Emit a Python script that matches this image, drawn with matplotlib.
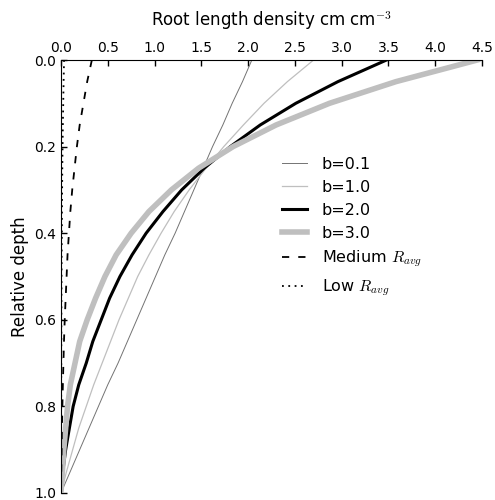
import numpy as np
import matplotlib
matplotlib.use("Agg")
import matplotlib.pyplot as plt

plt.rcParams['mathtext.fontset'] = 'cm'
plt.rcParams['font.family'] = ['DejaVu Sans']

# relative depth (0 = surface, 1 = bottom of root zone)
depth = [0.00, 0.05, 0.10, 0.15, 0.20, 0.25, 0.30, 0.35, 0.40, 0.45, 0.50,
         0.55, 0.60, 0.65, 0.70, 0.75, 0.80, 0.85, 0.90, 0.95, 1.00]

# root length density (cm cm^-3) per shape parameter b
rld_b01 = [2.04, 1.94, 1.83, 1.73, 1.62, 1.52, 1.42, 1.32, 1.22, 1.11, 1.01,
           0.91, 0.81, 0.71, 0.61, 0.50, 0.40, 0.30, 0.20, 0.10, 0.00]
rld_b10 = [2.70, 2.42, 2.17, 1.95, 1.74, 1.55, 1.37, 1.21, 1.07, 0.94, 0.82,
           0.72, 0.62, 0.53, 0.44, 0.35, 0.27, 0.19, 0.125, 0.06, 0.00]
rld_b20 = [3.48, 2.96, 2.51, 2.13, 1.81, 1.53, 1.29, 1.09, 0.91, 0.76, 0.63,
           0.52, 0.43, 0.34, 0.27, 0.19, 0.13, 0.09, 0.05, 0.02, 0.00]
rld_b30 = [4.45, 3.58, 2.87, 2.30, 1.84, 1.47, 1.18, 0.94, 0.75, 0.59, 0.47,
           0.37, 0.28, 0.20, 0.15, 0.10, 0.07, 0.05, 0.03, 0.015, 0.00]
rld_medium = [0.33, 0.28, 0.24, 0.20, 0.17, 0.145, 0.12, 0.10, 0.085, 0.07, 0.06,
              0.05, 0.04, 0.032, 0.026, 0.02, 0.015, 0.01, 0.007, 0.003, 0.00]
rld_low = [0.033, 0.028, 0.024, 0.020, 0.017, 0.014, 0.012, 0.010, 0.009, 0.007, 0.006,
           0.005, 0.004, 0.0035, 0.003, 0.0025, 0.002, 0.0015, 0.001, 0.0005, 0.0]

fig = plt.figure(figsize=(4.95, 5.0), dpi=100)
ax = fig.add_axes([0.1232, 0.014, 0.8505, 0.866])

ax.plot(rld_b01, depth, color='0.45', lw=0.7, label='b=0.1')
ax.plot(rld_b10, depth, color='0.75', lw=0.9, label='b=1.0')
ax.plot(rld_b20, depth, color='black', lw=2.2, label='b=2.0')
ax.plot(rld_b30, depth, color='0.75', lw=4.0, label='b=3.0')
ax.plot(rld_medium, depth, color='black', lw=1.3, dashes=[4, 5],
        label=r'Medium $R_{avg}$')
ax.plot(rld_low, depth, color='black', lw=1.3, dashes=[1, 2.5],
        label=r'Low $R_{avg}$')

ax.set_xlim(0, 4.5)
ax.set_ylim(1.0, 0.0)
ax.set_xticks(np.arange(0, 4.51, 0.5))
ax.set_yticks(np.arange(0, 1.01, 0.2))
ax.xaxis.tick_top()
ax.xaxis.set_label_position('top')
ax.tick_params(direction='in', length=4, width=1, labelsize=10,
               top=True, bottom=False, left=True, right=False)
for side in ['right', 'bottom']:
    ax.spines[side].set_visible(False)

ax.set_xlabel(r'Root length density cm cm$^{-3}$', fontsize=12, labelpad=11)
ax.set_ylabel('Relative depth', fontsize=12)

ax.legend(loc='upper left', bbox_to_anchor=(0.49, 0.81), frameon=False,
          fontsize=11.5, handlelength=1.6, handletextpad=0.9, labelspacing=0.5)

fig.savefig('out.png', dpi=100)
